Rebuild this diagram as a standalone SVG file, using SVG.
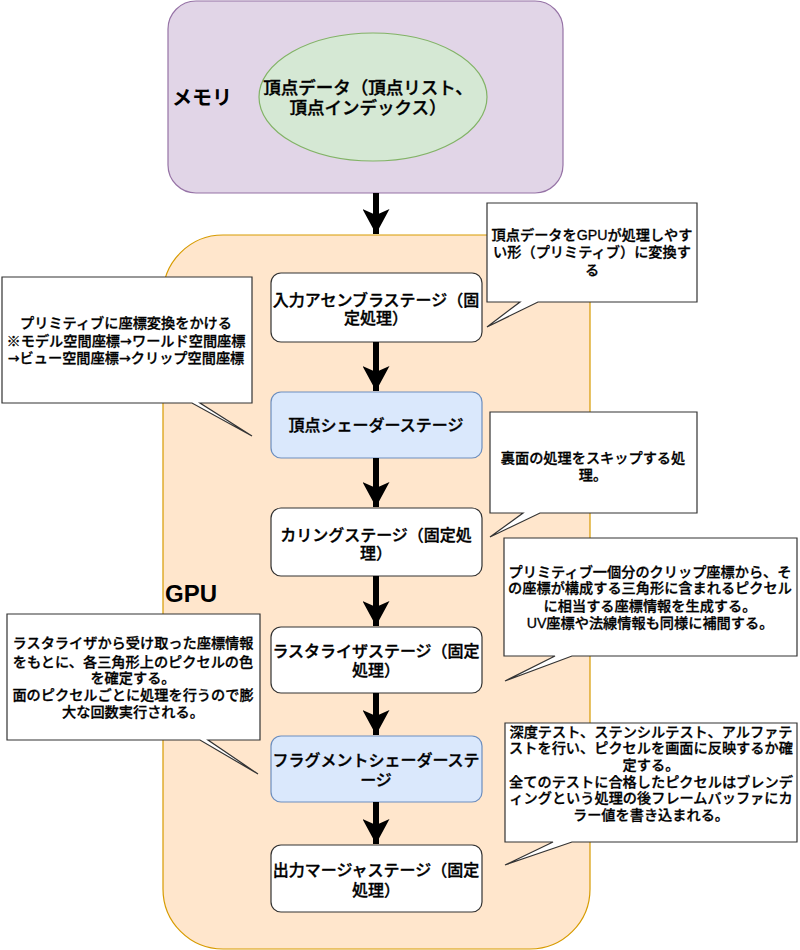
<svg xmlns="http://www.w3.org/2000/svg" width="800" height="950" viewBox="0 0 800 950">
<style>
text{font-family:"Liberation Sans","Noto Sans CJK JP",sans-serif;fill:#000;text-anchor:middle}
.n{font-size:16px;font-weight:500;stroke:#000;stroke-width:0.35}
.c{font-size:14.2px;font-weight:500;stroke:#000;stroke-width:0.3}
.e{font-size:17.5px;font-weight:500;stroke:#000;stroke-width:0.35}
.ja{font-family:"DejaVu Sans",sans-serif}
.big{font-weight:bold;text-anchor:start}
.wn{fill:#ffffff;stroke:#333333;stroke-width:1.2}
.bn{fill:#dae8fc;stroke:#6c8ebf;stroke-width:1.2}
.co{fill:#ffffff;stroke:#333333;stroke-width:1.2;stroke-linejoin:miter}
.ar{stroke:#000;stroke-width:6;fill:none}
</style>
<defs>
<marker id="ah" viewBox="0 0 25 27" refX="25" refY="13.5" markerWidth="25" markerHeight="27" markerUnits="userSpaceOnUse" orient="auto">
<path d="M0,0 L25,13.5 L0,27 L6,13.5 Z" fill="#000"/>
</marker>
</defs>

<g id="memory">
<rect x="168" y="1" width="395" height="192" rx="28" ry="28" fill="#e1d5e7" stroke="#9673a6" stroke-width="1.2"/>
<text class="big" x="172" y="105" font-size="20">メモリ</text>
</g>
<g id="vertex-data">
<ellipse cx="373" cy="97" rx="114" ry="64" fill="#d5e8d4" stroke="#82b366" stroke-width="1.2"/>
<text class="e" x="368" y="94">頂点データ（頂点リスト、</text>
<text class="e" x="368" y="114">頂点インデックス）</text>
</g>

<g id="gpu">
<rect x="163" y="235" width="427" height="714" rx="60" ry="60" fill="#ffe6cc" stroke="#d79b00" stroke-width="1.2"/>
<text class="big" x="165" y="602" font-size="24">GPU</text>
</g>

<g id="input-assembler">
<rect class="wn" x="271" y="273" width="211" height="69" rx="10" ry="10"/>
<text class="n" x="376" y="306">入力アセンブラステージ（固</text>
<text class="n" x="376" y="324">定処理）</text>
</g>
<g id="vertex-shader">
<rect class="bn" x="271" y="392" width="211" height="66" rx="10" ry="10"/>
<text class="n" x="376" y="431">頂点シェーダーステージ</text>
</g>
<g id="culling">
<rect class="wn" x="271" y="508" width="211" height="68" rx="10" ry="10"/>
<text class="n" x="376" y="541">カリングステージ（固定処</text>
<text class="n" x="376" y="559">理）</text>
</g>
<g id="rasterizer">
<rect class="wn" x="271" y="627" width="211" height="66" rx="10" ry="10"/>
<text class="n" x="376" y="657">ラスタライザステージ（固定</text>
<text class="n" x="376" y="676">処理）</text>
</g>
<g id="fragment-shader">
<rect class="bn" x="271" y="736" width="211" height="66" rx="10" ry="10"/>
<text class="n" x="376" y="766">フラグメントシェーダーステ</text>
<text class="n" x="376" y="786">ージ</text>
</g>
<g id="output-merger">
<rect class="wn" x="271" y="845" width="211" height="67" rx="10" ry="10"/>
<text class="n" x="376" y="876">出力マージャステージ（固定</text>
<text class="n" x="376" y="896">処理）</text>
</g>

<g id="callout-input">
<path class="co" d="M487,203 H697 V302 H538 L487,327 L520,302 H487 Z"/>
<text class="c" x="592" y="240">頂点データをGPUが処理しやす</text>
<text class="c" x="592" y="257">い形（プリミティブ）に変換す</text>
<text class="c" x="592" y="275">る</text>
</g>
<g id="callout-vertex">
<path class="co" d="M2,277 H252 V403 H200 L252,436 L192,403 H2 Z"/>
<text class="c" x="126" y="328">プリミティブに座標変換をかける<tspan x="126" dy="17.5">※モデル空間座標<tspan class="ja">→</tspan>ワールド空間座標</tspan><tspan x="126" dy="17.5"><tspan class="ja">→</tspan>ビュー空間座標<tspan class="ja">→</tspan>クリップ空間座標</tspan></text>
</g>
<g id="callout-culling">
<path class="co" d="M490,412 H697 V513 H540 L490,537 L523,513 H490 Z"/>
<text class="c" x="593" y="463">裏面の処理をスキップする処</text>
<text class="c" x="593" y="480">理。</text>
</g>
<g id="callout-fragment">
<path class="co" d="M7,614 H260 V740 H208 L258,774 L200,740 H7 Z"/>
<text class="c" x="133" y="648">ラスタライザから受け取った座標情報</text>
<text class="c" x="133" y="667">をもとに、各三角形上のピクセルの色</text>
<text class="c" x="133" y="683">を確定する。</text>
<text class="c" x="133" y="700">面のピクセルごとに処理を行うので膨</text>
<text class="c" x="133" y="717">大な回数実行される。</text>
</g>
<g id="callout-rasterizer">
<path class="co" d="M504,538 H797 V656 H572 L505,681 L555,656 H504 Z"/>
<text class="c" x="650" y="577">プリミティブ一個分のクリップ座標から、そ</text>
<text class="c" x="650" y="593">の座標が構成する三角形に含まれるピクセル</text>
<text class="c" x="650" y="611">に相当する座標情報を生成する。</text>
<text class="c" x="650" y="628">UV座標や法線情報も同様に補間する。</text>
</g>
<g id="callout-output">
<path class="co" d="M505,723 H797 V842 H572 L505,865 L553,842 H505 Z"/>
<text class="c" x="651" y="737">深度テスト、ステンシルテスト、アルファテ</text>
<text class="c" x="651" y="753">ストを行い、ピクセルを画面に反映するか確</text>
<text class="c" x="651" y="770">定する。</text>
<text class="c" x="651" y="787">全てのテストに合格したピクセルはブレンデ</text>
<text class="c" x="651" y="803">ィングという処理の後フレームバッファにカ</text>
<text class="c" x="651" y="820">ラー値を書き込まれる。</text>
</g>

<g id="connectors">
<line class="ar" x1="376" y1="193" x2="376" y2="234" marker-end="url(#ah)"/>
<line class="ar" x1="376" y1="342" x2="376" y2="391" marker-end="url(#ah)"/>
<line class="ar" x1="376" y1="458" x2="376" y2="507" marker-end="url(#ah)"/>
<line class="ar" x1="376" y1="576" x2="376" y2="626" marker-end="url(#ah)"/>
<line class="ar" x1="376" y1="693" x2="376" y2="735" marker-end="url(#ah)"/>
<line class="ar" x1="376" y1="802" x2="376" y2="844" marker-end="url(#ah)"/>
</g>
</svg>
